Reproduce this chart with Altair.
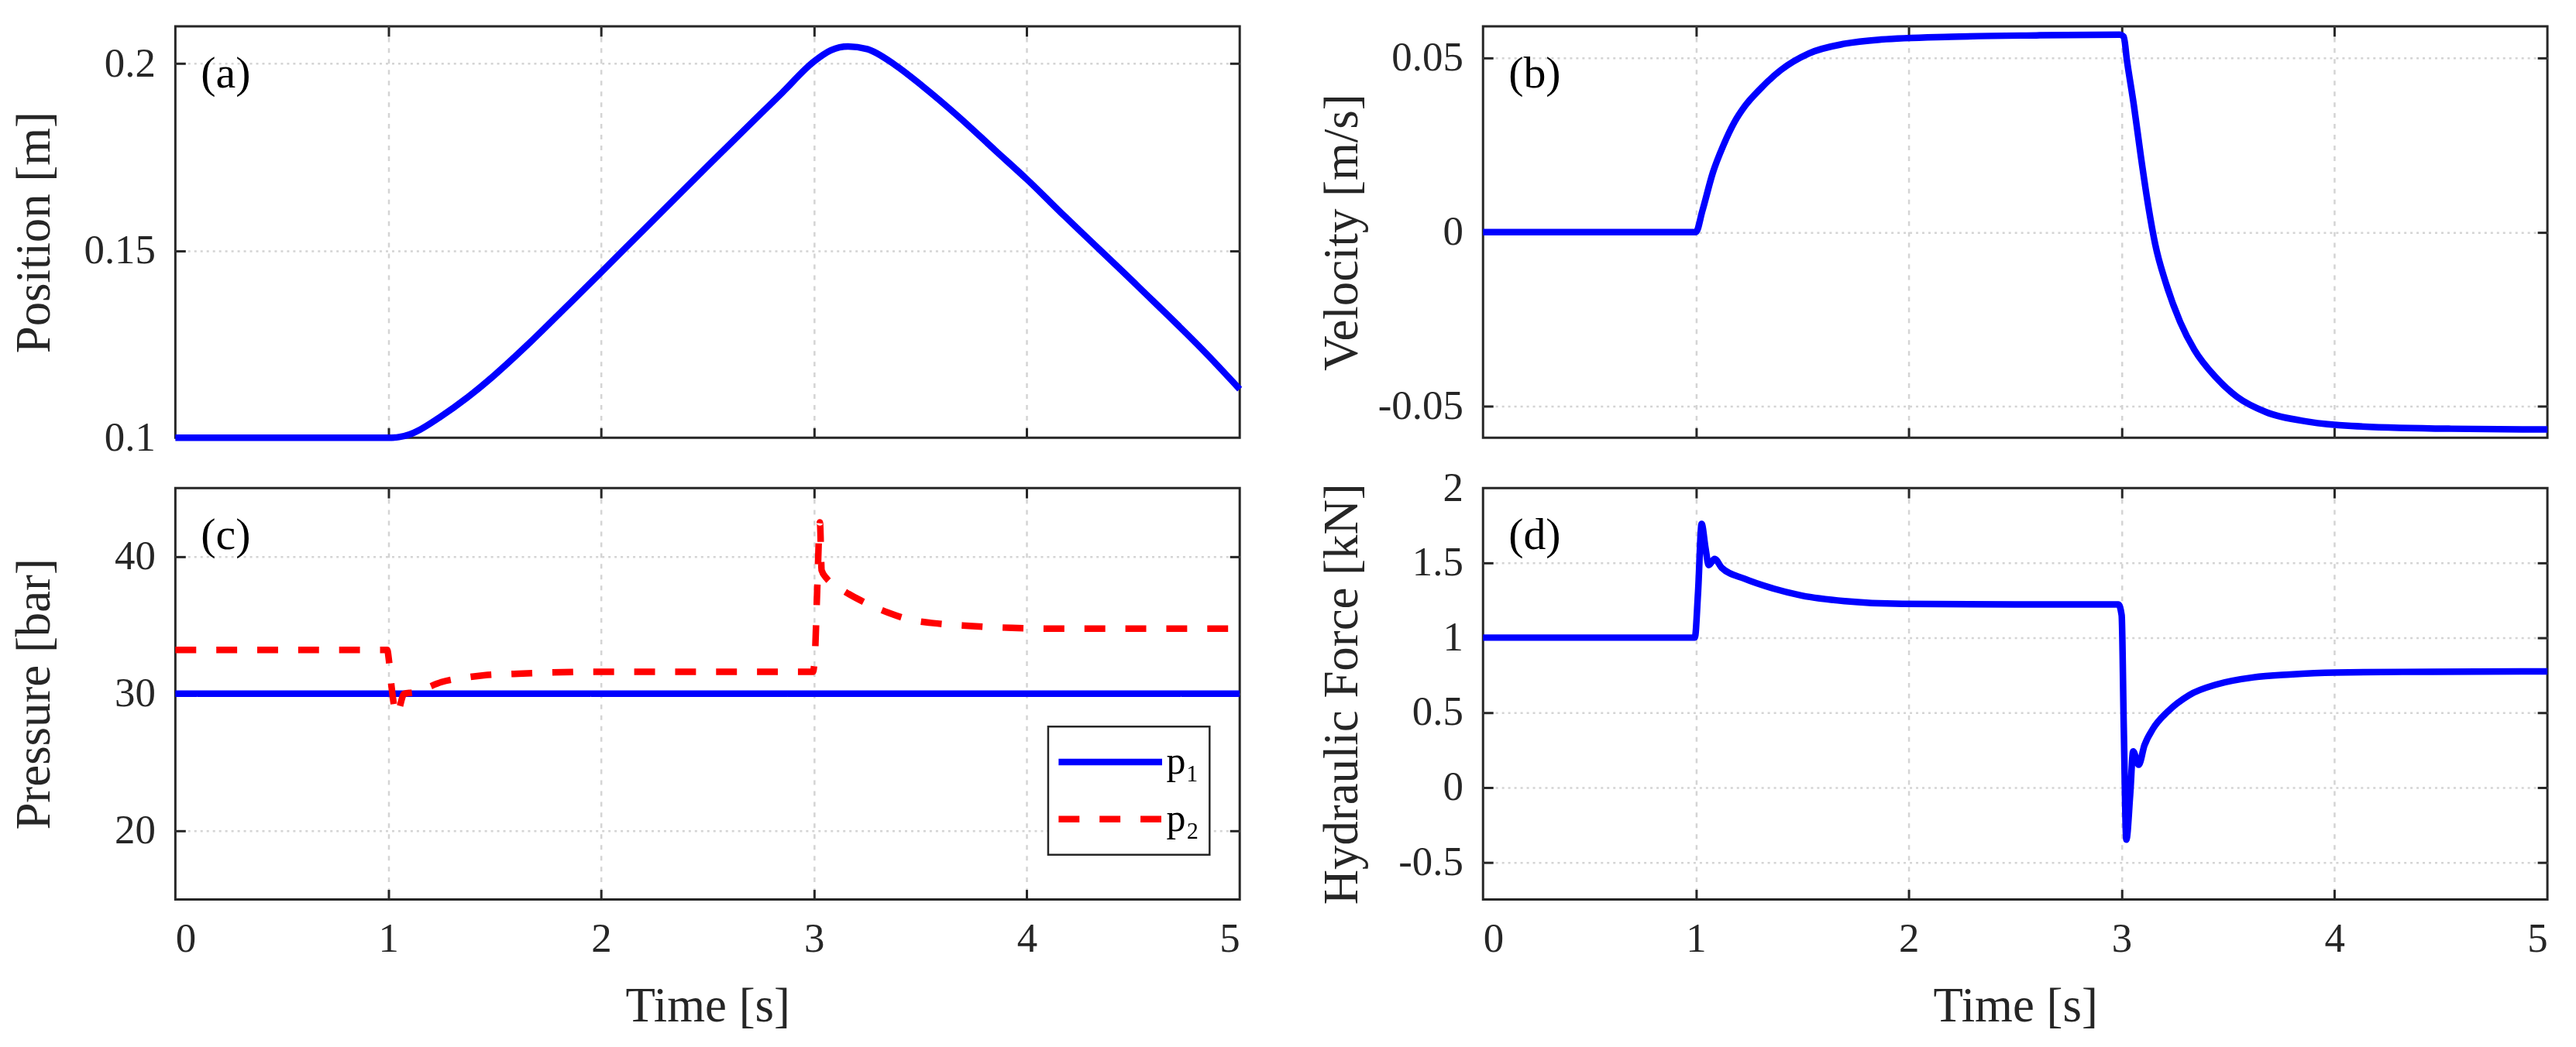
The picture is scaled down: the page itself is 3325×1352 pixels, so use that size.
import altair as alt
import pandas as pd

W, H = 1378, 533
FONT = "Liberation Serif"
AXC = "#262626"
GRIDC = "#d4d4d4"

# ---------------- data ----------------
x_ticks = [0, 1, 2, 3, 4, 5]
x_inner = [1, 2, 3, 4]

time_pos = [0.0, 1.0, 1.05, 1.10, 1.15, 1.24, 1.37, 1.50, 1.67, 1.84, 2.0, 2.17,
            2.51, 2.85, 3.0, 3.08, 3.16, 3.25, 3.38, 3.51, 3.68, 3.85, 4.0, 4.18,
            4.52, 4.85, 5.0]
position = [0.1, 0.1, 0.1002, 0.1009, 0.1022, 0.1054, 0.1107, 0.1168, 0.1257, 0.1352,
            0.1442, 0.1539, 0.1732, 0.1922, 0.2006, 0.2036, 0.2046, 0.2039, 0.1997,
            0.1940, 0.1858, 0.1769, 0.1691, 0.1591, 0.1406, 0.1221, 0.1130]
pos_ticks = [0.1, 0.15, 0.2]
pos_inner = [0.15, 0.2]

time_vel = [0.0, 1.0, 1.03, 1.08, 1.13, 1.18, 1.23, 1.30, 1.40, 1.53, 1.70, 1.87,
            2.20, 2.60, 2.99, 3.01, 3.024, 3.058, 3.09, 3.125, 3.158, 3.208, 3.275,
            3.342, 3.443, 3.543, 3.677, 3.878, 4.079, 4.548, 5.0]
velocity = [0.0, 0.0, 0.006, 0.0171, 0.0250, 0.0314, 0.0361, 0.0409, 0.0465, 0.0512,
            0.0540, 0.0552, 0.0560, 0.0564, 0.0566, 0.0560, 0.0496, 0.0361, 0.0218,
            0.0075, -0.0036, -0.0147, -0.0258, -0.0338, -0.0417, -0.0473, -0.0516,
            -0.0544, -0.0556, -0.0564, -0.0566]
vel_ticks = [-0.05, 0, 0.05]
vel_inner = [-0.05, 0, 0.05]

time_p1 = [0.0, 5.0]
p1 = [30.0, 30.0]
time_p2 = [0.0, 0.995, 1.005, 1.015, 1.04, 1.075, 1.12, 1.16, 1.25, 1.35, 1.45, 1.59,
           1.76, 1.93, 2.995, 3.005, 3.015, 3.028, 3.036, 3.06, 3.10, 3.15, 3.22,
           3.35, 3.45, 3.56, 3.73, 3.93, 4.13, 5.0]
p2 = [33.2, 33.2, 32.2, 30.6, 28.5, 30.0, 30.1, 30.3, 30.85, 31.15, 31.35, 31.45,
      31.55, 31.6, 31.6, 33.0, 37.5, 42.5, 39.0, 38.4, 37.9, 37.4, 36.8, 35.9, 35.4,
      35.15, 34.95, 34.8, 34.75, 34.75]
series_names = ["p\u2081", "p\u2082"]
pres_ticks = [20, 30, 40]
pres_inner = [20, 30, 40]

time_force = [0.0, 0.995, 1.01, 1.027, 1.045, 1.06, 1.088, 1.121, 1.229, 1.364, 1.498,
              1.70, 1.97, 2.5, 2.985, 3.0, 3.01, 3.022, 3.04, 3.054, 3.08, 3.107,
              3.148, 3.215, 3.316, 3.451, 3.62, 3.79, 4.0, 4.46, 5.0]
force = [1.0, 1.0, 1.30, 1.76, 1.60, 1.485, 1.526, 1.467, 1.393, 1.328, 1.281, 1.244,
         1.226, 1.222, 1.222, 1.15, 0.4, -0.35, -0.05, 0.24, 0.15, 0.28, 0.393, 0.504,
         0.615, 0.689, 0.735, 0.754, 0.767, 0.772, 0.774]
force_ticks = [-0.5, 0, 0.5, 1, 1.5, 2]
force_inner = [-0.5, 0, 0.5, 1, 1.5]

LABEL_EXPR = "(datum.value < 0 ? '-' : '') + format(abs(datum.value), '~g')"


def panel(df, ydom, yvals, yinner, ytitle, letter, bottom, series=False):
    xs = alt.Scale(domain=[0, 5], nice=False, zero=False)
    ys = alt.Scale(domain=ydom, nice=False, zero=False)
    lo, hi = ydom
    eps = (hi - lo) * 1e-3
    x_main = alt.X(
        "t:Q", scale=xs,
        axis=alt.Axis(
            orient="bottom", values=x_ticks, labels=bottom, labelPadding=25,
            labelExpr=LABEL_EXPR,
            ticks=False, tickSize=0, domain=False,
            grid=True, gridColor=GRIDC, gridWidth=2.5, gridDash=[6, 8],
            gridOpacity={"condition": {"test": "datum.value <= 0.001 || datum.value >= 4.999", "value": 0}, "value": 1},
            title="Time [s]" if bottom else None,
            titleX=W / 2, titleY=157, titleAlign="center", titleBaseline="alphabetic",
        ),
    )
    y_main = alt.Y(
        "v:Q", scale=ys,
        axis=alt.Axis(
            orient="left", values=yvals, labelPadding=26, labelExpr=LABEL_EXPR,
            ticks=False, tickSize=0, domain=False,
            grid=True, gridColor=GRIDC, gridWidth=2.5, gridDash=[3, 5],
            gridOpacity={"condition": {"test": f"datum.value <= {lo + eps} || datum.value >= {hi - eps}", "value": 0}, "value": 1},
            title=ytitle, titleX=-163, titleY=H / 2, titleAngle=-90,
            titleAlign="center", titleBaseline="alphabetic",
        ),
    )
    base = alt.Chart(df)
    if series:
        leg = alt.Legend(
            orient="none", legendX=1130, legendY=309, title=None,
            symbolType="stroke", symbolSize=134 * 134, symbolStrokeWidth=8.5,
            symbolOffset=-4, clipHeight=66, rowPadding=8, padding=13,
            strokeColor=AXC, fillColor="white",
            labelFont=FONT, labelFontSize=50, labelColor="black",
            labelBaseline="middle", labelOffset=1,
        )
        line = base.mark_line(strokeWidth=8.5, interpolate="monotone").encode(
            x=x_main, y=y_main,
            color=alt.Color("series:N", scale=alt.Scale(domain=series_names, range=["#0000ff", "#ff0000"]), legend=leg),
            strokeDash=alt.StrokeDash("series:N", scale=alt.Scale(domain=series_names, range=[[1, 0], [27, 26]]), legend=leg),
            order=alt.Order("t:Q"),
        )
    else:
        line = base.mark_line(strokeWidth=8.5, color="#0000ff", interpolate="monotone").encode(
            x=x_main, y=y_main)

    tick_common = dict(labels=False, title=None, domain=False, grid=False, ticks=True,
                       tickSize=13, tickWidth=3, tickColor=AXC)
    # inward ticks at bottom and left edges
    ticks_a = base.mark_line(opacity=0).encode(
        x=alt.X("t:Q", scale=xs, axis=alt.Axis(orient="top", offset=-H, values=x_inner, **tick_common)),
        y=alt.Y("v:Q", scale=ys, axis=alt.Axis(orient="right", offset=-W, values=yinner, **tick_common)),
    )
    # inward ticks at top and right edges
    ticks_b = base.mark_line(opacity=0).encode(
        x=alt.X("t:Q", scale=xs, axis=alt.Axis(orient="bottom", offset=-H, values=x_inner, **tick_common)),
        y=alt.Y("v:Q", scale=ys, axis=alt.Axis(orient="left", offset=-W, values=yinner, **tick_common)),
    )
    lab = alt.Chart(pd.DataFrame({"lab": [letter]})).mark_text(
        font=FONT, fontSize=58, align="left", baseline="alphabetic", color="black"
    ).encode(x=alt.value(33), y=alt.value(79), text="lab:N")

    return alt.layer(line, ticks_a, ticks_b, lab).resolve_axis(x="independent", y="independent").properties(
        width=W, height=H)


df_a = pd.DataFrame({"t": time_pos, "v": position})
df_b = pd.DataFrame({"t": time_vel, "v": velocity})
df_c = pd.concat([
    pd.DataFrame({"t": time_p1, "v": p1, "series": series_names[0]}),
    pd.DataFrame({"t": time_p2, "v": p2, "series": series_names[1]}),
], ignore_index=True)
df_d = pd.DataFrame({"t": time_force, "v": force})

pa = panel(df_a, [0.1, 0.21], pos_ticks, pos_inner, "Position [m]", "(a)", False)
pb = panel(df_b, [-0.059, 0.059], vel_ticks, vel_inner, "Velocity [m/s]", "(b)", False)
pc = panel(df_c, [15, 45], pres_ticks, pres_inner, "Pressure [bar]", "(c)", True, series=True)
pd_ = panel(df_d, [-0.75, 2], force_ticks, force_inner, "Hydraulic Force [kN]", "(d)", True)

chart = alt.concat(
    pa, pb, pc, pd_, columns=2, spacing={"row": 65, "column": 315}, bounds="flush"
).resolve_scale(
    color="independent", strokeDash="independent"
).properties(
    padding={"left": 4, "top": 16, "right": 10, "bottom": 10}
).configure_view(
    stroke=AXC, strokeWidth=3
).configure_axis(
    labelFont=FONT, labelFontSize=53, labelColor=AXC,
    titleFont=FONT, titleFontSize=63, titleFontWeight="normal", titleColor=AXC,
).configure_legend(
    strokeWidth=2.5
)

chart.save("out.html", embed_options={"renderer": "svg", "actions": False})
